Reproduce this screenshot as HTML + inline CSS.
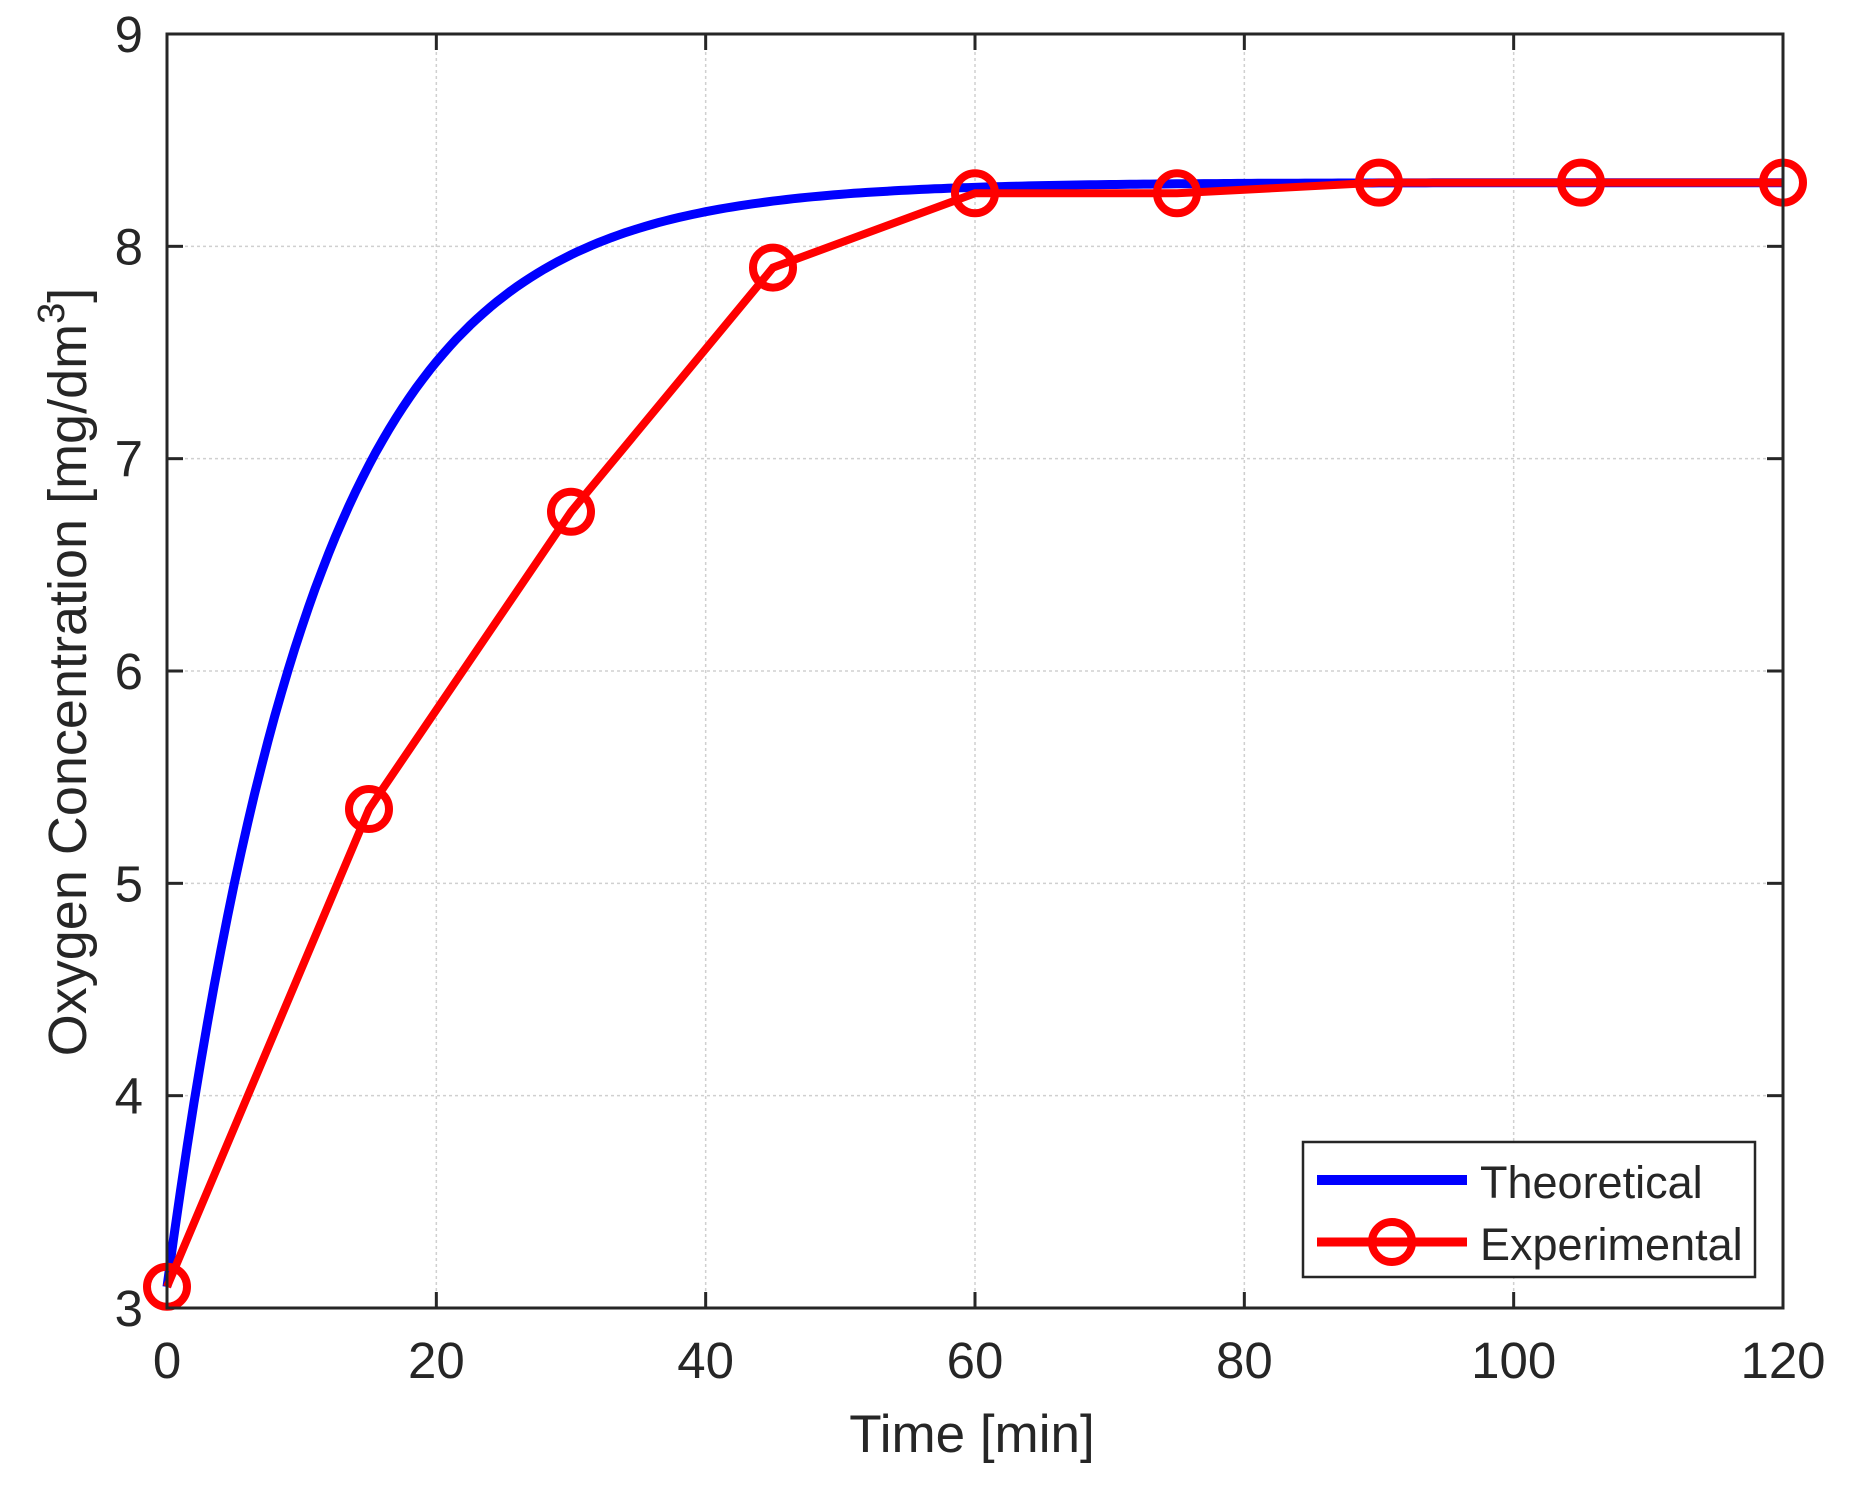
<!DOCTYPE html>
<html><head><meta charset="utf-8"><style>
html,body{margin:0;padding:0;background:#fff}
svg{display:block}
text{font-family:"Liberation Sans",Arial,sans-serif;fill:#262626}
</style></head><body>
<svg id="s" width="1851" height="1488" viewBox="0 0 1851 1488" xmlns="http://www.w3.org/2000/svg">
<rect width="1851" height="1488" fill="#fff"/>
<g id="grid" stroke="#d0d0d0" stroke-width="1.5" stroke-dasharray="3,3"></g>
<g id="ticks" stroke="#262626" stroke-width="3"></g>
<path id="theo" fill="none" stroke="#0000ff" stroke-width="9"/>
<g id="exp"></g>
<rect x="167" y="34" width="1616" height="1274" fill="none" stroke="#262626" stroke-width="3"/>
<g id="labels" font-size="51"></g>
<text x="972" y="1452" font-size="53" text-anchor="middle">Time [min]</text>
<text transform="translate(86,672) rotate(-90)" font-size="54" text-anchor="middle">Oxygen Concentration [mg/dm<tspan dy="-22" font-size="38">3</tspan><tspan dy="22">]</tspan></text>
<rect x="1303" y="1142" width="452" height="135" fill="#fff" stroke="#262626" stroke-width="2.5"/>
<line x1="1317" y1="1180" x2="1467" y2="1180" stroke="#0000ff" stroke-width="10"/>
<line x1="1317" y1="1242" x2="1467" y2="1242" stroke="#ff0000" stroke-width="9"/>
<circle cx="1392" cy="1242" r="20" fill="none" stroke="#ff0000" stroke-width="8"/>
<text x="1480" y="1198" font-size="45">Theoretical</text>
<text x="1480" y="1260" font-size="45">Experimental</text>
</svg>
<script>
var X=function(t){return 167+t*1616/120},Y=function(v){return 1308-(v-3)*1274/6};
var ns="http://www.w3.org/2000/svg";
function el(p,n,a,txt){var e=document.createElementNS(ns,n);for(var k in a)e.setAttribute(k,a[k]);if(txt!==undefined)e.textContent=txt;document.getElementById(p).appendChild(e);}
for(var t=20;t<120;t+=20)el("grid","line",{x1:X(t),y1:34,x2:X(t),y2:1308});
for(var v=4;v<9;v++)el("grid","line",{x1:167,y1:Y(v),x2:1783,y2:Y(v)});
for(var t=0;t<=120;t+=20){el("ticks","line",{x1:X(t),y1:1308,x2:X(t),y2:1292});el("ticks","line",{x1:X(t),y1:34,x2:X(t),y2:50});
 el("labels","text",{x:X(t),y:1378,"text-anchor":"middle"},String(t));}
for(var v=3;v<=9;v++){el("ticks","line",{x1:167,y1:Y(v),x2:183,y2:Y(v)});el("ticks","line",{x1:1783,y1:Y(v),x2:1767,y2:Y(v)});
 el("labels","text",{x:143,y:Y(v)+18,"text-anchor":"end"},String(v));}
var d="";for(var t=0;t<=120;t+=0.5){var c=8.3-5.2*Math.exp(-t/11);d+=(t?"L":"M")+X(t).toFixed(1)+","+Y(c).toFixed(1);}
document.getElementById("theo").setAttribute("d",d);
var ex=[[0,3.1],[15,5.35],[30,6.75],[45,7.9],[60,8.25],[75,8.25],[90,8.3],[105,8.3],[120,8.3]];
var p=ex.map(function(a,i){return (i?"L":"M")+X(a[0])+","+Y(a[1]);}).join("");
el("exp","path",{d:p,fill:"none",stroke:"#ff0000","stroke-width":8});
ex.forEach(function(a){el("exp","circle",{cx:X(a[0]),cy:Y(a[1]),r:20,fill:"none",stroke:"#ff0000","stroke-width":8});});
</script>
</body></html>
